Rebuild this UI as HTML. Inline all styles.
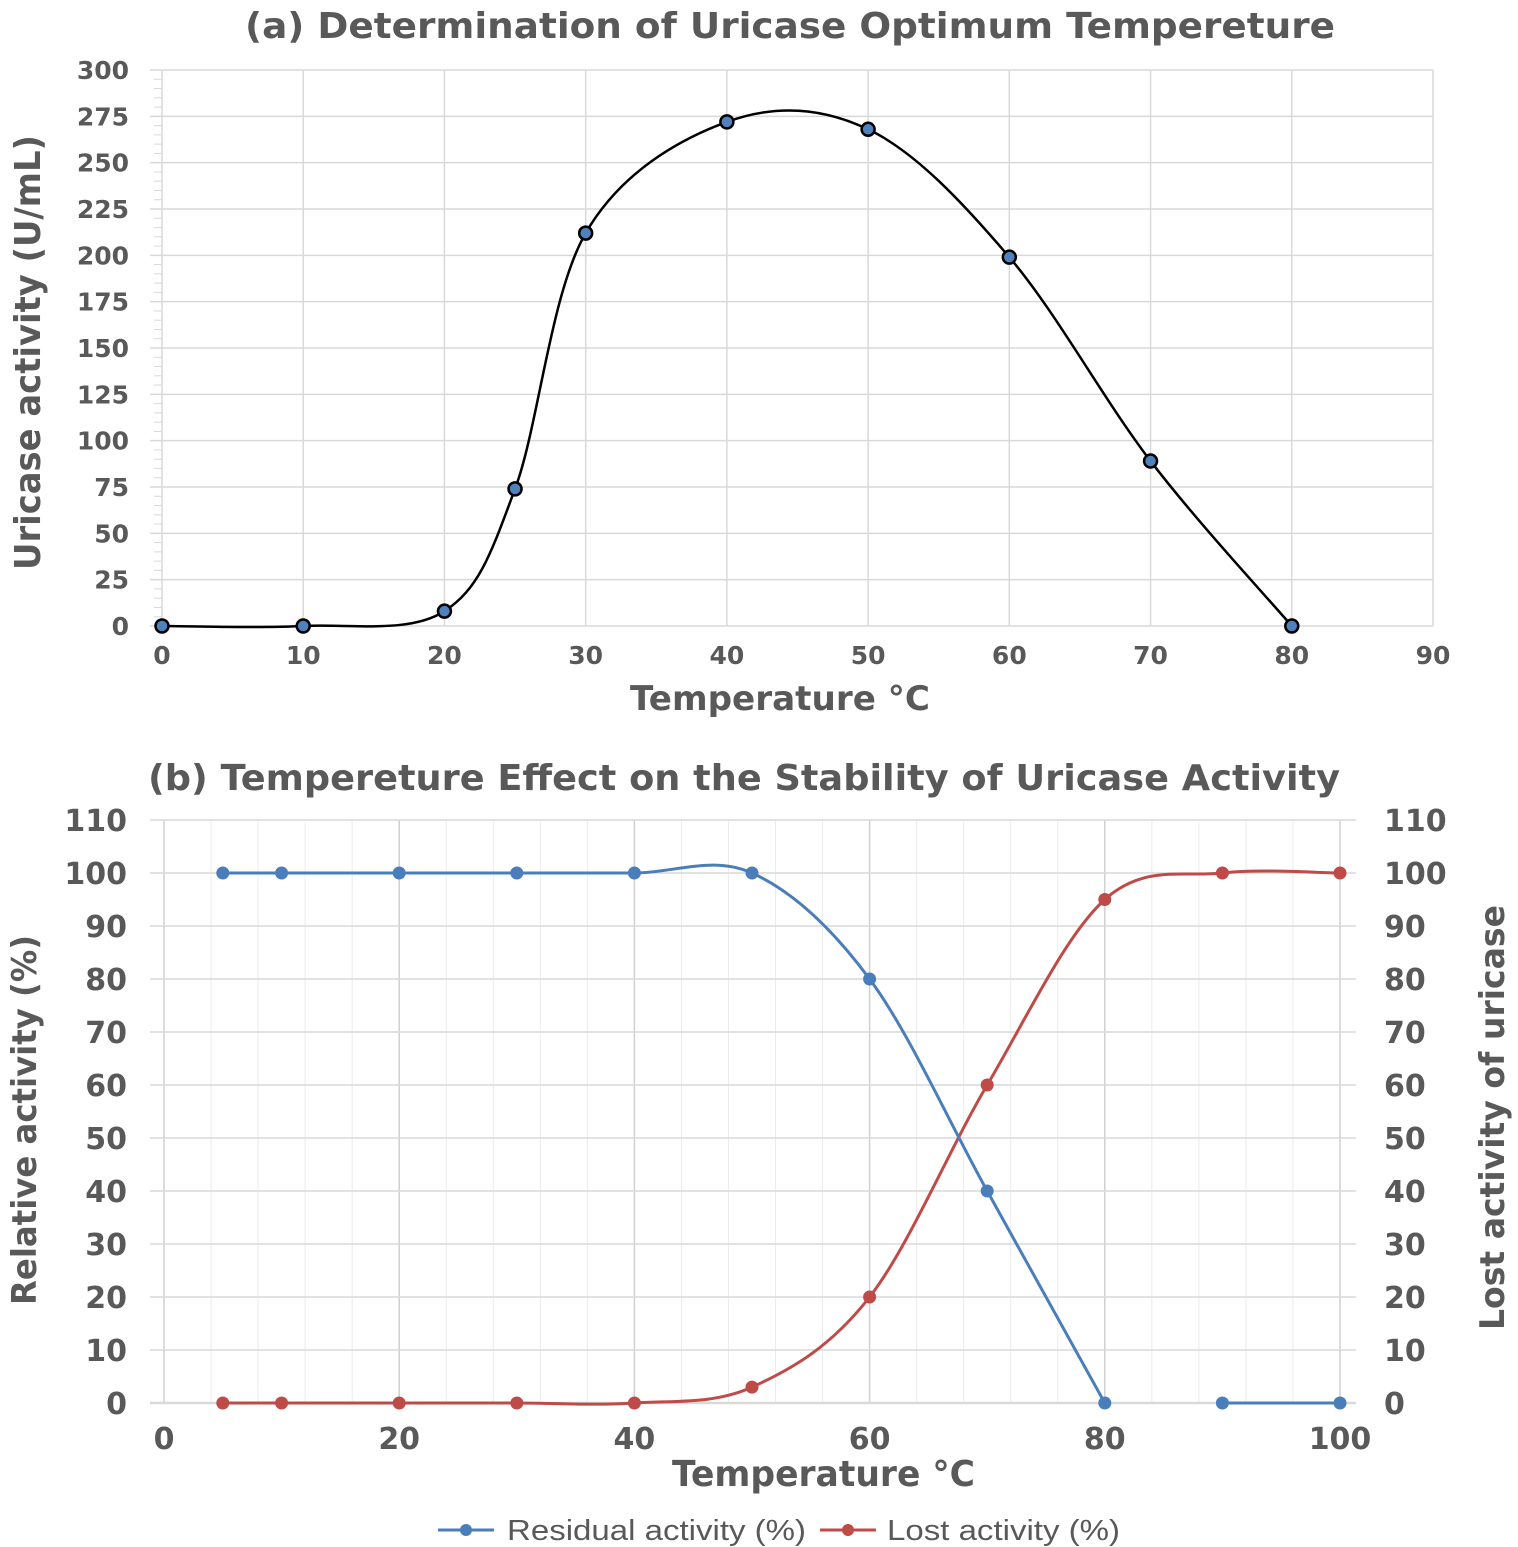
<!DOCTYPE html>
<html><head><meta charset="utf-8"><style>
body{margin:0;background:#fff;}
svg{display:block;font-family:"Liberation Sans",sans-serif;}
.t{fill:#595959;font-weight:bold;}
.d{fill:#595959;font-weight:bold;font-family:"DejaVu Sans",sans-serif;}
</style></head><body>
<svg id="svg" width="1518" height="1547" viewBox="0 0 1518 1547" xmlns="http://www.w3.org/2000/svg">
<text class="d" x="245" y="38" font-size="36" textLength="1090" lengthAdjust="spacingAndGlyphs">(a) Determination of Uricase Optimum Tempereture</text>
<g id="ga"></g>
<text class="d" x="630" y="710" font-size="34" textLength="300" lengthAdjust="spacingAndGlyphs">Temperature °C</text>
<text class="d" transform="translate(40,570) rotate(-90)" font-size="36" textLength="435" lengthAdjust="spacingAndGlyphs">Uricase activity (U/mL)</text>

<text class="d" x="148" y="790" font-size="36" textLength="1192" lengthAdjust="spacingAndGlyphs">(b) Tempereture Effect on the Stability of Uricase Activity</text>
<g id="gb"></g>
<text class="d" x="672" y="1486" font-size="36" textLength="303" lengthAdjust="spacingAndGlyphs">Temperature °C</text>
<text class="d" transform="translate(36,1305) rotate(-90)" font-size="34" textLength="370" lengthAdjust="spacingAndGlyphs">Relative activity (%)</text>
<text class="d" transform="translate(1504,1330) rotate(-90)" font-size="34" textLength="425" lengthAdjust="spacingAndGlyphs">Lost activity of uricase</text>
<g>
<g>
<line x1="438" y1="1530" x2="494" y2="1530" stroke="#4a7ebb" stroke-width="3"/><circle cx="466" cy="1530" r="6" fill="#4a7ebb"/>
<text x="507" y="1540" font-size="29" fill="#595959" textLength="299" lengthAdjust="spacingAndGlyphs">Residual activity (%)</text></g>
<g>
<line x1="820" y1="1530" x2="876" y2="1530" stroke="#be4b48" stroke-width="3"/><circle cx="848" cy="1530" r="6" fill="#be4b48"/>
<text x="887" y="1540" font-size="29" fill="#595959" textLength="233" lengthAdjust="spacingAndGlyphs">Lost activity (%)</text></g>
</g>
</svg>
<script>
// Chart A data
const aTemps=[0,10,20,25,30,40,50,60,70,80];
const aActivity=[0,0,8,74,212,272,268,199,89,0];
const aYTicks=[0,25,50,75,100,125,150,175,200,225,250,275,300];
const aXTicks=[0,10,20,30,40,50,60,70,80,90];
// Chart B data
const bTemps=[5,10,20,30,40,50,60,70,80,90,100];
const bResidual=[100,100,100,100,100,100,80,40,0,0,0];
const bLost=[0,0,0,0,0,3,20,60,95,100,100];
const bResidualBreakAfter=80;
const bYTicks=[0,10,20,30,40,50,60,70,80,90,100,110];
const bXTicks=[0,20,40,60,80,100];

const NS="http://www.w3.org/2000/svg";
function mk(parent,tag,attrs){const e=document.createElementNS(NS,tag);for(const k in attrs)e.setAttribute(k,attrs[k]);parent.appendChild(e);return e;}
function smooth(pts){
  if(pts.length<2)return "";
  let d=`M${pts[0][0]},${pts[0][1]}`;
  for(let i=0;i<pts.length-1;i++){
    const p0=pts[i-1]||pts[i],p1=pts[i],p2=pts[i+1],p3=pts[i+2]||pts[i+1];
    const c1x=p1[0]+(p2[0]-p0[0])/6,c1y=p1[1]+(p2[1]-p0[1])/6;
    const c2x=p2[0]-(p3[0]-p1[0])/6,c2y=p2[1]-(p3[1]-p1[1])/6;
    d+=` C${c1x},${c1y} ${c2x},${c2y} ${p2[0]},${p2[1]}`;
  }
  return d;
}
// Chart A
(function(){
  const g=document.getElementById('ga');
  const xA=v=>162+v*(1433-162)/90, yA=v=>626-v*(626-70)/300;
  aXTicks.forEach(t=>{
    const l=mk(g,'line',{x1:xA(t),x2:xA(t),y1:70,y2:626,stroke:'#d9d9d9','stroke-width':1.5});
    
    const tx=mk(g,'text',{x:xA(t),y:664,'font-size':25,'text-anchor':'middle',class:'d'});tx.textContent=t;
    
  });
  aYTicks.forEach(t=>{
    const l=mk(g,'line',{x1:150,x2:1433,y1:yA(t),y2:yA(t),stroke:'#d9d9d9','stroke-width':1.5});
    
    const tx=mk(g,'text',{x:129,y:yA(t)+9,'font-size':25,'text-anchor':'end',class:'d'});tx.textContent=t;
    
  });
  for(let v=0;v<=300;v+=5){const m=mk(g,'line',{x1:154,x2:162,y1:yA(v),y2:yA(v),stroke:'#d9d9d9','stroke-width':1});
    }
  const pts=aTemps.map((t,i)=>[xA(t),yA(aActivity[i])]);
  const p=mk(g,'path',{d:smooth(pts),fill:'none',stroke:'#000','stroke-width':2.5});
  
  pts.forEach(q=>{const c=mk(g,'circle',{cx:q[0],cy:q[1],r:6.5,fill:'#4f81bd',stroke:'#000','stroke-width':2.5});
    });
})();
// Chart B
(function(){
  const g=document.getElementById('gb');
  const xB=v=>164+v*(1340-164)/100, yB=v=>1403-v*(1403-873)/100;
  for(let v=0;v<=100;v+=4){const l=mk(g,'line',{x1:xB(v),x2:xB(v),y1:yB(110),y2:yB(0),stroke:'#ececec','stroke-width':1});
    }
  bXTicks.forEach(t=>{
    const l=mk(g,'line',{x1:xB(t),x2:xB(t),y1:yB(110),y2:yB(0),stroke:'#d0d0d0','stroke-width':1.5});
    
    const tx=mk(g,'text',{x:xB(t),y:1449,'font-size':30,'text-anchor':'middle',class:'d'});tx.textContent=t;
    
  });
  bYTicks.forEach(t=>{
    const l=mk(g,'line',{x1:150,x2:1356,y1:yB(t),y2:yB(t),stroke:'#d9d9d9','stroke-width':t===0?2.5:1.5});
    
    const tx=mk(g,'text',{x:127,y:yB(t)+11,'font-size':30,'text-anchor':'end',class:'d'});tx.textContent=t;
    
    const tr=mk(g,'text',{x:1384,y:yB(t)+11,'font-size':30,'text-anchor':'start',class:'d'});tr.textContent=t;
    
  });
  const rp=bTemps.map((t,i)=>[xB(t),yB(bResidual[i])]);
  const seg1=rp.filter((q,i)=>bTemps[i]<=bResidualBreakAfter), seg2=rp.filter((q,i)=>bTemps[i]>bResidualBreakAfter);
  const lp=bTemps.map((t,i)=>[xB(t),yB(bLost[i])]);
  const l1=mk(g,'path',{d:smooth(lp),fill:'none',stroke:'#be4b48','stroke-width':3});
  
  const r1=mk(g,'path',{d:smooth(seg1)+' '+smooth(seg2),fill:'none',stroke:'#4a7ebb','stroke-width':3});
  
  rp.forEach(q=>{const c=mk(g,'circle',{cx:q[0],cy:q[1],r:6.5,fill:'#4a7ebb'});
    });
  lp.forEach(q=>{const c=mk(g,'circle',{cx:q[0],cy:q[1],r:6.5,fill:'#be4b48'});
    });
})();
</script>
</body></html>
